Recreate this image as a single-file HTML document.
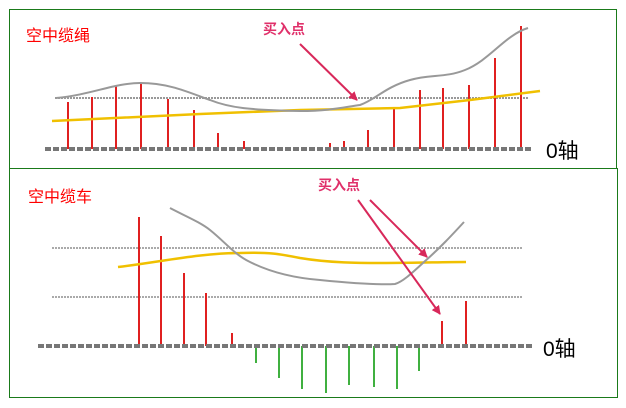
<!DOCTYPE html>
<html><head><meta charset="utf-8"><style>
html,body{margin:0;padding:0;background:#fff;}
svg{display:block}
text{font-family:"Liberation Sans","Noto Sans CJK SC",sans-serif}
</style></head><body>
<svg width="626" height="408" viewBox="0 0 626 408" xmlns="http://www.w3.org/2000/svg">
<defs>
<marker id="ah" markerWidth="9" markerHeight="9" refX="8" refY="4.5" orient="auto" markerUnits="userSpaceOnUse" viewBox="0 0 9 9">
<path d="M0,0 L9,4.5 L0,9 Z" fill="#d8285a"/></marker>
</defs>
<rect x="9.5" y="9.5" width="607" height="159" fill="none" stroke="#1a7a1a" stroke-width="1"/>
<rect x="9.5" y="168.5" width="608" height="229" fill="none" stroke="#1a7a1a" stroke-width="1"/>

<!-- TOP PANEL -->
<text x="26" y="41" font-size="16" fill="#ff0000">空中缆绳</text>
<line x1="55" y1="98" x2="528" y2="98" stroke="#999" stroke-width="2" stroke-dasharray="2,1"/>
<g stroke="#e02020" stroke-width="2">
<line x1="68" y1="149" x2="68" y2="102"/><line x1="92" y1="149" x2="92" y2="97"/>
<line x1="116" y1="149" x2="116" y2="86"/><line x1="141" y1="149" x2="141" y2="83"/>
<line x1="168" y1="149" x2="168" y2="99"/><line x1="194" y1="149" x2="194" y2="110"/>
<line x1="218" y1="149" x2="218" y2="133"/><line x1="244" y1="149" x2="244" y2="141"/>
<line x1="330" y1="149" x2="330" y2="143"/><line x1="344" y1="149" x2="344" y2="141"/>
<line x1="368" y1="149" x2="368" y2="130"/><line x1="394" y1="149" x2="394" y2="107"/>
<line x1="420" y1="149" x2="420" y2="90"/><line x1="443" y1="149" x2="443" y2="88"/>
<line x1="469" y1="149" x2="469" y2="85"/><line x1="495" y1="149" x2="495" y2="58"/>
<line x1="521" y1="149" x2="521" y2="26"/>
</g>
<path d="M52,121 L200,114 L300,110 L400,108 L470,100 L540,91" fill="none" stroke="#f0c000" stroke-width="2.5"/>
<path d="M56,98 C90,95 115,83 140,83 C170,83 190,93 210,100 C230,108 250,110 300,111 C330,111 345,107 360,105 C375,100 385,87 410,80 C430,74 445,78 465,70 C490,60 505,35 528,28" fill="none" stroke="#999" stroke-width="2"/>
<line x1="45" y1="149" x2="532" y2="149" stroke="#777" stroke-width="4" stroke-dasharray="6,2"/>
<text x="546" y="158" font-size="21" fill="#000">0轴</text>
<text x="263" y="34" font-size="14" font-weight="bold" fill="#e0306a">买入点</text>
<line x1="300" y1="44" x2="357" y2="100" stroke="#d8285a" stroke-width="2" marker-end="url(#ah)"/>

<!-- BOTTOM PANEL -->
<text x="28" y="202" font-size="16" fill="#ff0000">空中缆车</text>
<text x="318" y="190" font-size="14" font-weight="bold" fill="#e0306a">买入点</text>
<line x1="52" y1="248" x2="522" y2="248" stroke="#aaa" stroke-width="2" stroke-dasharray="2,1"/>
<line x1="52" y1="297" x2="522" y2="297" stroke="#aaa" stroke-width="2" stroke-dasharray="2,1"/>
<g stroke="#e02020" stroke-width="2">
<line x1="139" y1="346" x2="139" y2="217"/><line x1="161" y1="346" x2="161" y2="236"/>
<line x1="184" y1="346" x2="184" y2="273"/><line x1="206" y1="346" x2="206" y2="293"/>
<line x1="232" y1="346" x2="232" y2="333"/><line x1="442" y1="346" x2="442" y2="321"/>
<line x1="466" y1="346" x2="466" y2="301"/>
</g>
<g stroke="#40b040" stroke-width="2">
<line x1="256" y1="346" x2="256" y2="363"/><line x1="279" y1="346" x2="279" y2="378"/>
<line x1="302" y1="346" x2="302" y2="389"/><line x1="326" y1="346" x2="326" y2="393"/>
<line x1="349" y1="346" x2="349" y2="385"/><line x1="374" y1="346" x2="374" y2="387"/>
<line x1="397" y1="346" x2="397" y2="389"/><line x1="419" y1="346" x2="419" y2="371"/>
</g>
<path d="M118,267 C160,262 200,253 240,253 C270,252 280,254 300,258 C330,263 360,263 380,263 C420,263 440,262 466,262" fill="none" stroke="#f0c000" stroke-width="2.5"/>
<path d="M170,208 C185,216 200,222 210,230 C225,242 235,255 250,262 C270,272 295,278 320,280 C350,283 380,285 395,284 C402,282 410,275 424,262 C440,248 452,235 464,222" fill="none" stroke="#999" stroke-width="2"/>
<line x1="38" y1="346" x2="534" y2="346" stroke="#777" stroke-width="4" stroke-dasharray="6,2"/>
<text x="543" y="356" font-size="21" fill="#000">0轴</text>
<line x1="358" y1="200" x2="440" y2="314" stroke="#d8285a" stroke-width="2" marker-end="url(#ah)"/>
<line x1="370" y1="200" x2="427" y2="257" stroke="#d8285a" stroke-width="2" marker-end="url(#ah)"/>
</svg>
</body></html>
